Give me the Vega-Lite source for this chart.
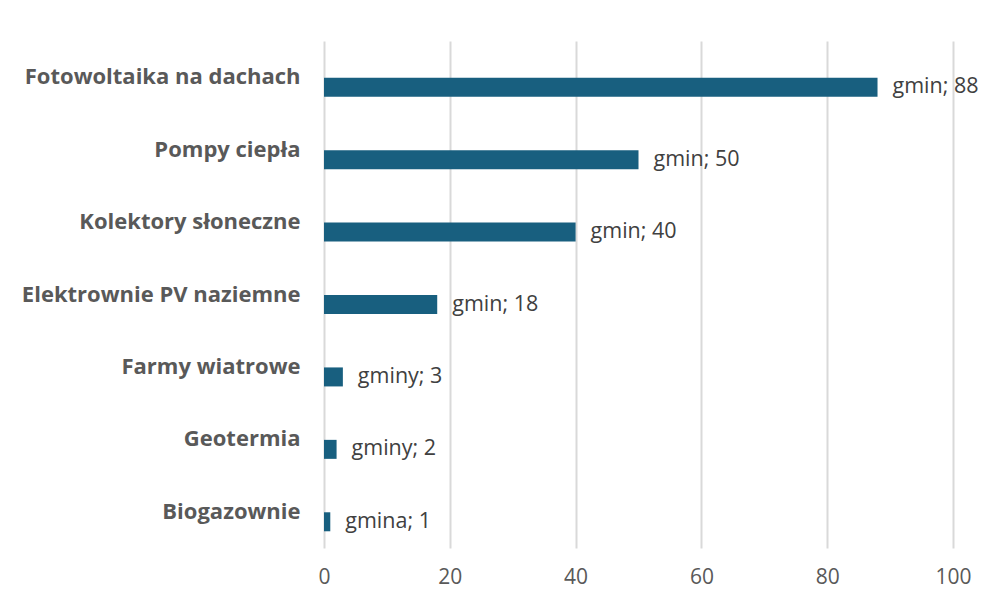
{
  "$schema": "https://vega.github.io/schema/vega-lite/v6.json",
  "width": 629,
  "height": 507,
  "autosize": {"type": "none"},
  "padding": {"left": 324, "top": 41, "right": 36, "bottom": 55},
  "background": "white",
  "config": {"view": {"stroke": null}, "font": "Open Sans"},
  "data": {"values": [
    {"kategoria": "Fotowoltaika na dachach", "liczba": 88, "etykieta": "gmin; 88"},
    {"kategoria": "Pompy ciepła", "liczba": 50, "etykieta": "gmin; 50"},
    {"kategoria": "Kolektory słoneczne", "liczba": 40, "etykieta": "gmin; 40"},
    {"kategoria": "Elektrownie PV naziemne", "liczba": 18, "etykieta": "gmin; 18"},
    {"kategoria": "Farmy wiatrowe", "liczba": 3, "etykieta": "gminy; 3"},
    {"kategoria": "Geotermia", "liczba": 2, "etykieta": "gminy; 2"},
    {"kategoria": "Biogazownie", "liczba": 1, "etykieta": "gmina; 1"}
  ]},
  "encoding": {
    "y": {"field": "kategoria", "type": "nominal", "sort": null,
      "scale": {"paddingInner": 0, "paddingOuter": 0},
      "axis": {"title": null, "domain": false, "ticks": false, "labelPadding": 24, "labelLimit": 400,
        "labelFontSize": 22, "labelFontWeight": "bold", "labelColor": "#595959", "grid": false}},
    "x": {"field": "liczba", "type": "quantitative",
      "scale": {"domain": [0, 100], "nice": false},
      "axis": {"title": null, "domain": false, "ticks": false, "values": [0, 20, 40, 60, 80, 100],
        "labelFlush": false, "labelFontSize": 21, "labelColor": "#595959", "labelPadding": 18,
        "grid": true, "gridColor": "#d9d9d9", "gridWidth": 2}}
  },
  "layer": [
    {"mark": {"type": "bar", "color": "#185f7f", "height": 19, "yOffset": 10}},
    {"mark": {"type": "text", "align": "left", "baseline": "middle", "dx": 15, "yOffset": 10, "fontSize": 21.5, "color": "#404040"},
      "encoding": {"text": {"field": "etykieta"}}}
  ]
}
